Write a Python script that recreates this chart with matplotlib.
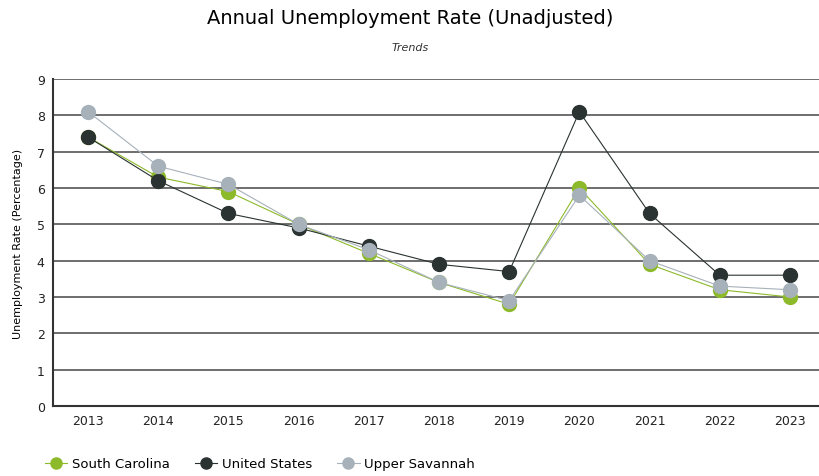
import matplotlib.pyplot as plt
import numpy as np

years = ["2013", "2014", "2015", "2016", "2017", "2018", "2019", "2020", "2021", "2022", "2023"]
south_carolina = [7.4, 6.3, 5.9, 5.0, 4.2, 3.4, 2.8, 6.0, 3.9, 3.2, 3.0]
united_states = [7.4, 6.2, 5.3, 4.9, 4.4, 3.9, 3.7, 8.1, 5.3, 3.6, 3.6]
upper_savannah = [8.1, 6.6, 6.1, 5.0, 4.3, 3.4, 2.9, 5.8, 4.0, 3.3, 3.2]

fig = plt.figure(figsize=(8.2, 4.77), dpi=100)
ax = fig.add_axes([53/820, 1 - 407/477, 772/820, 327/477])

x = np.arange(len(years))
ax.plot(x, south_carolina, marker="o", ms=10, lw=0.8, color="#8dba2a", label="South Carolina", zorder=3)
ax.plot(x, united_states, marker="o", ms=10, lw=0.8, color="#2a3331", label="United States", zorder=4)
ax.plot(x, upper_savannah, marker="o", ms=10, lw=0.8, color="#a7b1ba", label="Upper Savannah", zorder=5)

ax.set_xlim(-0.5, 10.5)
ax.set_ylim(0, 9)
ax.set_xticks(x)
ax.set_xticklabels(years)
ax.set_yticks(range(0, 10))
ax.yaxis.grid(True, color="#555555", lw=1.2)
ax.set_axisbelow(True)
ax.tick_params(length=0, labelsize=9, colors="#222222", pad=6)
for s in ["top", "right"]:
    ax.spines[s].set_visible(False)
ax.spines["left"].set_color("#333333")
ax.spines["bottom"].set_color("#333333")
ax.spines["left"].set_linewidth(1.5)
ax.spines["bottom"].set_linewidth(1.5)
ax.set_ylabel("Unemployment Rate (Percentage)", fontsize=8, labelpad=10)

fig.text(0.5, 1 - 18/477, "Annual Unemployment Rate (Unadjusted)", ha="center", va="center", fontsize=14)
fig.text(0.5, 1 - 48/477, "Trends", ha="center", va="center", fontsize=8, style="italic", color="#333333")

fig.legend(loc="center left", bbox_to_anchor=(33/820, 1 - 465/477), ncol=3, frameon=False,
           fontsize=9.5, handlelength=1.7, handletextpad=0.35, columnspacing=1.9, markerscale=0.8)

fig.savefig("out.png", dpi=100)
